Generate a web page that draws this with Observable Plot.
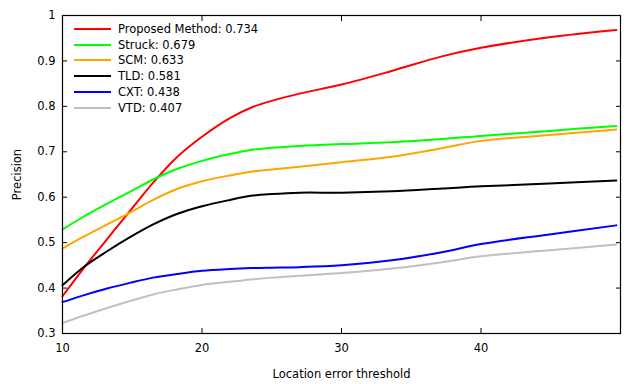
<!DOCTYPE html>
<html>
<head>
<meta charset="utf-8">
<script src="https://cdn.jsdelivr.net/npm/d3@7"></script>
<script src="https://cdn.jsdelivr.net/npm/@observablehq/plot@0.6"></script>
<style>
  html, body { margin: 0; padding: 0; background: #fff; }
  #wrap { position: relative; width: 640px; height: 384px; font-family: "DejaVu Sans", sans-serif; }
  #legend { position: absolute; left: 74px; top: 21px; font-size: 11.5px; color: #000; }
  .row { display: flex; align-items: center; height: 15.8px; }
  .sw { width: 37px; height: 2px; margin-right: 7px; }
</style>
</head>
<body>
<div id="wrap"><div id="legend"></div></div>
<script>
const thresholds = [10, 11.5, 13.2, 14.9, 16.5, 18.2, 20, 22, 23.5, 25, 27, 30, 33.6, 37.2, 40, 44.9, 49.7];
const methods = ["Proposed Method", "Struck", "SCM", "TLD", "CXT", "VTD"];
const scores = ["0.734", "0.679", "0.633", "0.581", "0.438", "0.407"];
const colors = ["#ff0000", "#00ff00", "#ffa500", "#000000", "#0000ff", "#c0c0c0"];
const proposed = [0.382, 0.443, 0.508, 0.572, 0.632, 0.688, 0.733, 0.774, 0.797, 0.812, 0.828, 0.848, 0.878, 0.910, 0.929, 0.952, 0.968];
const struck   = [0.529, 0.557, 0.586, 0.613, 0.639, 0.662, 0.680, 0.695, 0.704, 0.709, 0.713, 0.717, 0.721, 0.728, 0.735, 0.746, 0.757];
const scm      = [0.487, 0.513, 0.540, 0.567, 0.594, 0.618, 0.635, 0.648, 0.656, 0.661, 0.667, 0.677, 0.689, 0.708, 0.724, 0.737, 0.749];
const tld      = [0.406, 0.446, 0.481, 0.513, 0.540, 0.563, 0.580, 0.594, 0.603, 0.607, 0.610, 0.610, 0.613, 0.619, 0.624, 0.630, 0.637];
const cxt      = [0.369, 0.384, 0.399, 0.412, 0.423, 0.431, 0.438, 0.442, 0.444, 0.445, 0.446, 0.450, 0.461, 0.479, 0.497, 0.518, 0.538];
const vtd      = [0.323, 0.339, 0.356, 0.372, 0.386, 0.397, 0.407, 0.414, 0.419, 0.423, 0.427, 0.433, 0.443, 0.457, 0.470, 0.483, 0.496];
const xTicks = [10, 20, 30, 40];
const yTicks = [0.3, 0.4, 0.5, 0.6, 0.7, 0.8, 0.9, 1];
const yTickLabels = ["0.3", "0.4", "0.5", "0.6", "0.7", "0.8", "0.9", "1"];

const series = [proposed, struck, scm, tld, cxt, vtd];
const rows = [];
series.forEach((vals, i) => vals.forEach((v, j) => rows.push({method: methods[i], x: thresholds[j], y: v})));

const plot = Plot.plot({
  width: 640,
  height: 384,
  marginLeft: 62,
  marginRight: 20,
  marginTop: 15,
  marginBottom: 51,
  style: {fontFamily: "DejaVu Sans, sans-serif", fontSize: "11.5px", color: "#000", background: "transparent"},
  x: {domain: [10, 50]},
  y: {domain: [0.3, 1]},
  color: {domain: methods, range: colors},
  marks: [
    Plot.line(rows, {x: "x", y: "y", z: "method", stroke: "method", strokeWidth: 2, curve: "catmull-rom"}),
    Plot.frame({stroke: "#000", strokeWidth: 1.2}),
    Plot.axisX(xTicks, {anchor: "bottom", tickSize: -5, tickPadding: 15, label: "Location error threshold", labelAnchor: "center", labelOffset: 44, labelArrow: "none"}),
    Plot.axisX(xTicks, {anchor: "top", tickSize: -5, tickFormat: () => "", label: null}),
    Plot.axisY(yTicks, {anchor: "left", tickSize: -5, tickPadding: 12, tickFormat: (d, i) => yTickLabels[i], label: "Precision", labelAnchor: "center", labelOffset: 50, labelArrow: "none"}),
    Plot.axisY(yTicks, {anchor: "right", tickSize: -5, tickFormat: () => "", label: null})
  ]
});
const wrap = document.getElementById("wrap");
wrap.insertBefore(plot, wrap.firstChild);

const legend = document.getElementById("legend");
methods.forEach((m, i) => {
  const r = document.createElement("div");
  r.className = "row";
  const s = document.createElement("div");
  s.className = "sw";
  s.style.background = colors[i];
  const t = document.createElement("span");
  t.textContent = m + ": " + scores[i];
  r.appendChild(s); r.appendChild(t);
  legend.appendChild(r);
});
</script>
</body>
</html>
